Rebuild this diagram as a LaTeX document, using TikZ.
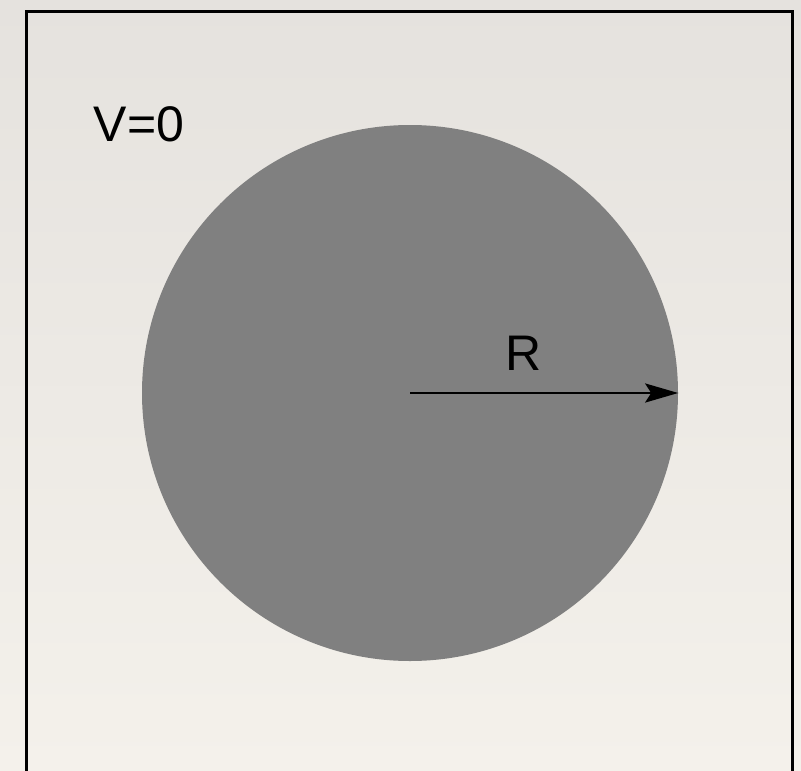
\documentclass[tikz,border=0pt]{standalone}
\usepackage{fontspec}
\setmainfont{Liberation Sans}
\usetikzlibrary{positioning,arrows.meta}
\usepackage{xcolor}
\definecolor{paperTop}{HTML}{E5E2DE}
\definecolor{paperBot}{HTML}{F4F1EB}
\definecolor{ballGray}{HTML}{808080}

\begin{document}
\begin{tikzpicture}[
    x = 1pt,
    y = -1pt,
    > = {Stealth[length=33pt, width=19pt, inset=6pt]},
    ball/.style={circle, fill=ballGray, minimum size=536pt, inner sep=0pt},
    lbl/.style={font=\fontsize{50}{60}\selectfont, inner sep=0pt}
]
    \useasboundingbox (0,0) rectangle (801,771);
    \shade[top color=paperTop, bottom color=paperBot] (0,0) rectangle (801,771);
    \clip (0,0) rectangle (801,771);
    \draw[line width=3pt] (26,11) rectangle (792,790);

    \node[ball] (ball) at (410,393) {};
    \node[lbl] (pot) at (139,124) {V=0};
    \node[lbl] (rad) at (524,353) {R};

    \draw[->, line width=2.8pt] (ball.center) -- (ball.east);
\end{tikzpicture}
\end{document}
